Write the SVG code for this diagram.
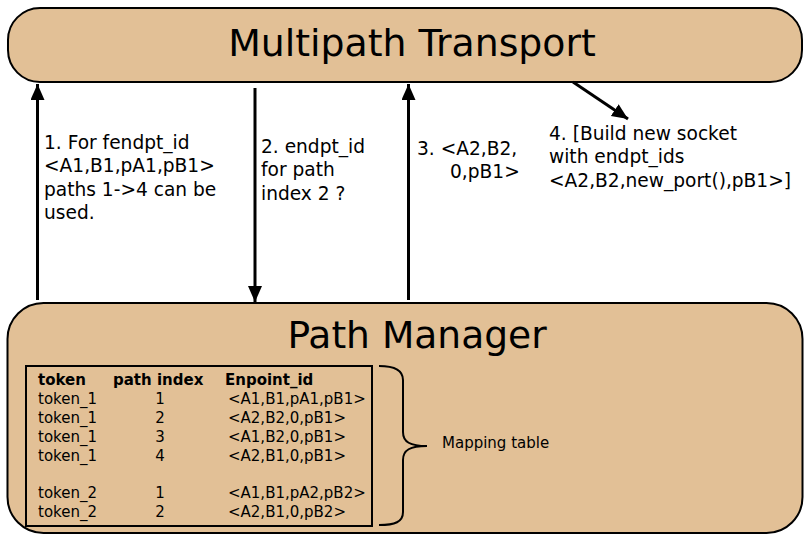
<svg xmlns="http://www.w3.org/2000/svg" width="804" height="534" viewBox="0 0 804 534">
<style>
.box{fill:#e2c096;stroke:#000;stroke-width:2}
text{font-family:"DejaVu Sans","Liberation Sans",sans-serif;fill:#000}
.title{font-size:37.8px;text-anchor:middle}
.title2{font-size:37.6px;text-anchor:middle}
.lbl{font-size:18.6px}
.tb{font-size:15px}
.th{font-size:15px;font-weight:bold}
.mid{text-anchor:middle}
.conn{stroke:#000;stroke-width:3;fill:none}
</style>
<defs>
<marker id="ah" markerUnits="userSpaceOnUse" markerWidth="18" markerHeight="16" refX="16" refY="7" orient="auto">
<path d="M0,0 L16,7 L0,14 Z" fill="#000"/>
</marker>
</defs>
<g id="multipath-transport">
<rect class="box" x="8" y="8" width="794" height="74" rx="32" ry="32"/>
<text class="title" x="412" y="56">Multipath Transport</text>
</g>
<g id="path-manager">
<rect class="box" x="7.5" y="303" width="795" height="230" rx="36" ry="36"/>
<text class="title2" x="417" y="348">Path Manager</text>
<rect x="26" y="366" width="346" height="160" fill="none" stroke="#000" stroke-width="2"/>
<text class="th" x="38" y="385">token</text>
<text class="th" x="113" y="385">path index</text>
<text class="th" x="225" y="385">Enpoint_id</text>
<g class="tb">
<text class="tb" x="38" y="404">token_1</text><text class="tb mid" x="160" y="404">1</text><text class="tb" x="228" y="404">&lt;A1,B1,pA1,pB1&gt;</text>
<text class="tb" x="38" y="423">token_1</text><text class="tb mid" x="160" y="423">2</text><text class="tb" x="228" y="423">&lt;A2,B2,0,pB1&gt;</text>
<text class="tb" x="38" y="442">token_1</text><text class="tb mid" x="160" y="442">3</text><text class="tb" x="228" y="442">&lt;A1,B2,0,pB1&gt;</text>
<text class="tb" x="38" y="461">token_1</text><text class="tb mid" x="160" y="461">4</text><text class="tb" x="228" y="461">&lt;A2,B1,0,pB1&gt;</text>
<text class="tb" x="38" y="498">token_2</text><text class="tb mid" x="160" y="498">1</text><text class="tb" x="228" y="498">&lt;A1,B1,pA2,pB2&gt;</text>
<text class="tb" x="38" y="517">token_2</text><text class="tb mid" x="160" y="517">2</text><text class="tb" x="228" y="517">&lt;A2,B1,0,pB2&gt;</text>
</g>
<path d="M379,366 C395,366 403,370 403,380 L403,432 C403,442 410,446 427,446 C410,446 403,450 403,460 L403,512 C403,522 395,525 379,525" fill="none" stroke="#000" stroke-width="2"/>
<text x="442" y="448" font-size="15">Mapping table</text>
</g>
<g id="connectors">
<line class="conn" x1="37.5" y1="300" x2="37.5" y2="84" marker-end="url(#ah)"/>
<line class="conn" x1="255" y1="88" x2="255" y2="302" marker-end="url(#ah)"/>
<line class="conn" x1="408.5" y1="300" x2="408.5" y2="84" marker-end="url(#ah)"/>
<line class="conn" x1="573" y1="82" x2="628" y2="119" marker-end="url(#ah)"/>
</g>
<g id="labels">
<text class="lbl" x="44" y="149">1. For fendpt_id</text>
<text class="lbl" x="44" y="172.3">&lt;A1,B1,pA1,pB1&gt;</text>
<text class="lbl" x="44" y="195.6">paths 1-&gt;4 can be</text>
<text class="lbl" x="44" y="219">used.</text>
<text class="lbl" x="261" y="153">2. endpt_id</text>
<text class="lbl" x="261" y="176.3">for path</text>
<text class="lbl" x="261" y="199.6">index 2 ?</text>
<text class="lbl" x="417" y="155">3. &lt;A2,B2,</text>
<text class="lbl" x="450" y="178">0,pB1&gt;</text>
<text class="lbl" x="549" y="140">4. [Build new socket</text>
<text class="lbl" x="549" y="163.3">with endpt_ids</text>
<text class="lbl" x="549" y="186.6">&lt;A2,B2,new_port(),pB1&gt;]</text>
</g>
</svg>
